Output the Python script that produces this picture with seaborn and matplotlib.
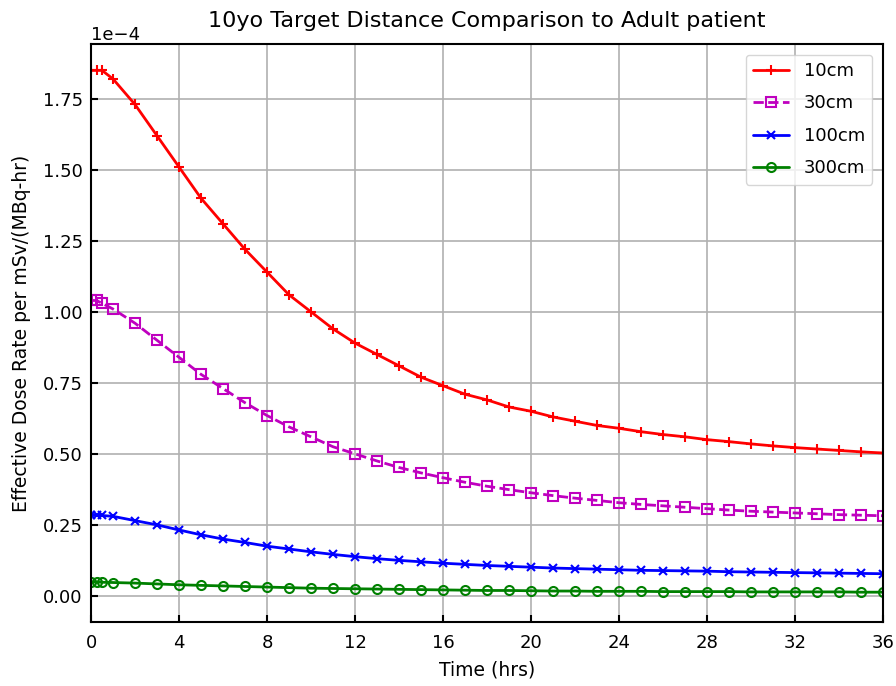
import numpy as np
import pandas as pd
import matplotlib
matplotlib.use("Agg")
import matplotlib.pyplot as plt
import seaborn as sns

times = [0, 0.25, 0.5, 1, 2, 3, 4, 5, 6, 7, 8, 9, 10, 11, 12, 13, 14, 15, 16, 17, 18,
         19, 20, 21, 22, 23, 24, 25, 26, 27, 28, 29, 30, 31, 32, 33, 34, 35, 36]

dose_10cm = [1.85, 1.85, 1.85, 1.82, 1.73, 1.62, 1.51, 1.40, 1.31, 1.22, 1.14, 1.06, 1.00,
             0.94, 0.89, 0.85, 0.81, 0.77, 0.74, 0.71, 0.69, 0.665, 0.65, 0.63, 0.615,
             0.60, 0.59, 0.578, 0.568, 0.56, 0.55, 0.543, 0.535, 0.528, 0.522, 0.517,
             0.512, 0.507, 0.503]
dose_30cm = [1.04, 1.04, 1.03, 1.01, 0.96, 0.90, 0.84, 0.78, 0.73, 0.68, 0.635, 0.595,
             0.56, 0.525, 0.50, 0.475, 0.452, 0.433, 0.416, 0.40, 0.386, 0.374, 0.363,
             0.353, 0.344, 0.336, 0.328, 0.322, 0.317, 0.312, 0.307, 0.302, 0.298,
             0.295, 0.292, 0.289, 0.286, 0.284, 0.282]
dose_100cm = [0.285, 0.285, 0.283, 0.28, 0.265, 0.25, 0.232, 0.215, 0.20, 0.188, 0.175,
              0.165, 0.155, 0.146, 0.138, 0.131, 0.125, 0.12, 0.115, 0.111, 0.107, 0.104,
              0.101, 0.098, 0.096, 0.094, 0.092, 0.090, 0.089, 0.088, 0.087, 0.085,
              0.084, 0.083, 0.082, 0.081, 0.080, 0.079, 0.078]
dose_300cm = [0.049, 0.049, 0.048, 0.047, 0.045, 0.042, 0.039, 0.037, 0.035, 0.033, 0.031,
              0.029, 0.027, 0.026, 0.025, 0.024, 0.023, 0.022, 0.021, 0.020, 0.019, 0.019,
              0.018, 0.017, 0.017, 0.016, 0.016, 0.016, 0.015, 0.015, 0.015, 0.015, 0.014,
              0.014, 0.014, 0.014, 0.014, 0.013, 0.013]

labels = ["10cm", "30cm", "100cm", "300cm"]
series = [dose_10cm, dose_30cm, dose_100cm, dose_300cm]
scale = 1e-4

sns.set_style("ticks")
plt.rcParams['font.family'] = ['DejaVu Sans']
plt.rcParams['text.color'] = 'black'
plt.rcParams['axes.labelcolor'] = 'black'
plt.rcParams['xtick.color'] = 'black'
plt.rcParams['ytick.color'] = 'black'

fig = plt.figure(figsize=(8.96, 6.86), dpi=100)
ax = fig.add_axes([91/896, 1 - 622/686, (883-91)/896, (622-44)/686])

styles = [
    dict(color="red", marker="+", linestyle="-", markersize=7, mew=1.5, mfc="red"),
    dict(color="m", marker="s", linestyle="--", markersize=6.5, mew=1.5, mfc="none"),
    dict(color="blue", marker="x", linestyle="-", markersize=6, mew=1.5, mfc="blue"),
    dict(color="green", marker="o", linestyle="-", markersize=6.5, mew=1.5, mfc="none"),
]

for lab, vals, st in zip(labels, series, styles):
    df = pd.DataFrame({"t": times, "v": np.array(vals) * scale})
    sns.lineplot(data=df, x="t", y="v", ax=ax, label=lab, linewidth=2,
                 color=st["color"], marker=st["marker"], linestyle=st["linestyle"],
                 markersize=st["markersize"], markeredgewidth=st["mew"],
                 markerfacecolor=st["mfc"], markeredgecolor=st["color"])

ax.set_xlim(0, 36)
ax.set_ylim(-0.092e-4, 1.943e-4)
ax.set_xticks(np.arange(0, 37, 4))
ax.set_yticks(np.arange(0, 1.76e-4, 0.25e-4))
ax.ticklabel_format(axis="y", style="sci", scilimits=(0, 0))
ax.yaxis.get_offset_text().set_fontsize(13)
ax.yaxis.get_offset_text().set_color("black")
ax.grid(True, color="#b0b0b0", linewidth=1.2)
ax.tick_params(direction="in", length=5, width=1.5, labelsize=13, colors="black")
ax.tick_params(axis="x", pad=9)
ax.tick_params(axis="y", pad=6)
for sp in ax.spines.values():
    sp.set_linewidth(1.5)
    sp.set_color("black")

ax.set_xlabel("Time (hrs)", fontsize=13.5, labelpad=6, color="black")
ax.set_ylabel("Effective Dose Rate per mSv/(MBq-hr)", fontsize=13.5, labelpad=8, color="black")
ax.set_title("10yo Target Distance Comparison to Adult patient", fontsize=16, pad=12, color="black")
leg = ax.legend(loc="upper right", fontsize=13, frameon=True, handlelength=2.0,
                labelspacing=0.8, borderaxespad=0.6)
for t in leg.get_texts():
    t.set_color("black")

fig.savefig("out.png", dpi=100)
